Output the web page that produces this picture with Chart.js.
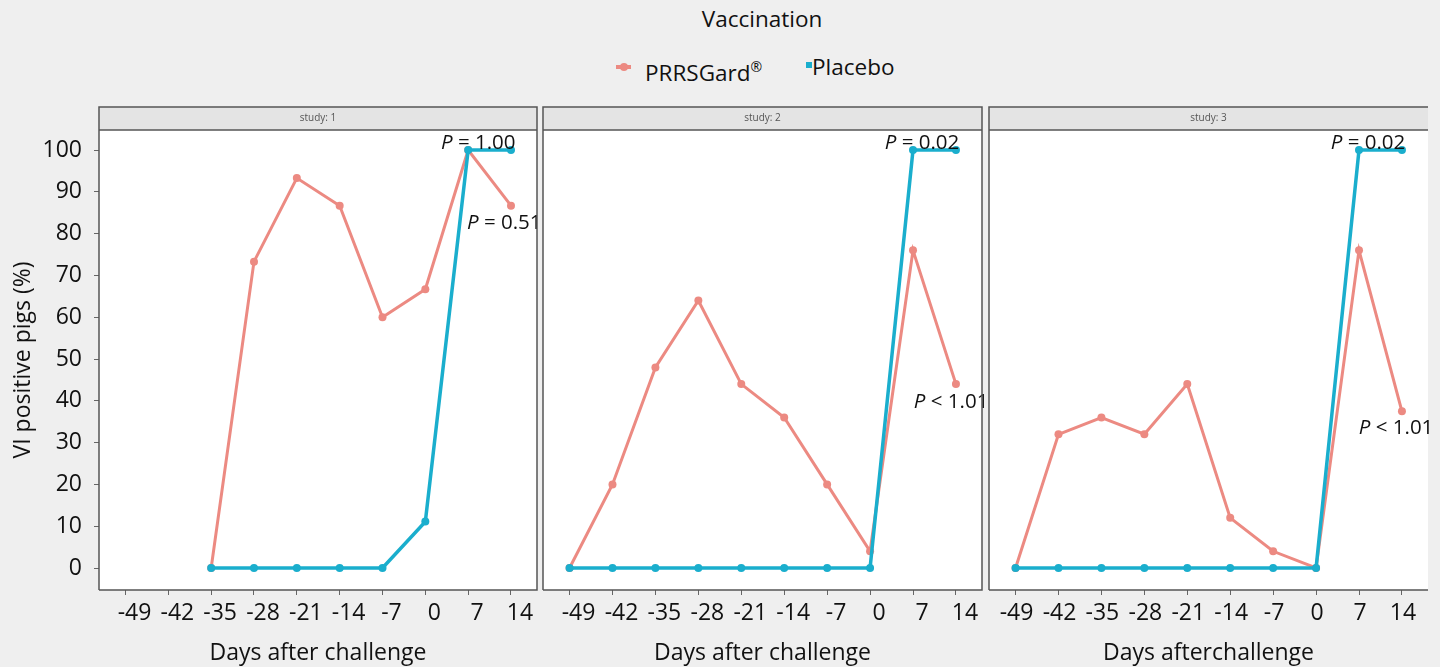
<!DOCTYPE html>
<html>
<head>
<meta charset="utf-8">
<script src="https://cdn.jsdelivr.net/npm/chart.js@4.4.0/dist/chart.umd.min.js"></script>
<style>
  html, body { margin:0; padding:0; background:#efefef; width:1440px; height:667px; overflow:hidden; font-family: "Open Sans", Lato, sans-serif; color:#111; }
  canvas { position:absolute; }
  .abs { position:absolute; white-space:nowrap; }
</style>
</head>
<body>
<div class="abs" id="legTitle" style="left:662px; top:5px; width:200px; text-align:center; font-size:22.5px; line-height:28px;">Vaccination</div>
<div class="abs" style="left:616px; top:65px; width:15px; height:4px; background:#ec8a82;"></div>
<div class="abs" style="left:620px; top:63px; width:8px; height:8px; border-radius:4px; background:#ec8a82;"></div>
<div class="abs" style="left:645px; top:53px; font-size:22.5px; line-height:28px;">PRRSGard<sup style="font-size:14px; vertical-align:9px;">®</sup></div>
<div class="abs" style="left:806px; top:62px; width:6px; height:6px; background:#1aaecd;"></div>
<div class="abs" style="left:812px; top:53px; font-size:22.5px; line-height:28px;">Placebo</div>

<canvas id="c1" width="545" height="577" style="left:0px; top:90px;"></canvas>
<canvas id="c2" width="451" height="577" style="left:537px; top:90px;"></canvas>
<canvas id="c3" width="457" height="577" style="left:983px; top:90px;"></canvas>

<script>
// ---- data ----
const xTickValues = [-49, -42, -35, -28, -21, -14, -7, 0, 7, 14];
const yTickValues = [0, 10, 20, 30, 40, 50, 60, 70, 80, 90, 100];
const seriesNames = ['PRRSGard®', 'Placebo'];
const studyTitles = ['study: 1', 'study: 2', 'study: 3'];

const study1Days = [-35, -28, -21, -14, -7, 0, 7, 14];
const study1Prrs = [0, 73.3, 93.3, 86.7, 60, 66.7, 100, 86.7];
const study1Placebo = [0, 0, 0, 0, 0, 11.1, 100, 100];

const study2Days = [-49, -42, -35, -28, -21, -14, -7, 0, 7, 14];
const study2Prrs = [0, 20, 48, 64, 44, 36, 20, 4, 76, 44];
const study2Placebo = [0, 0, 0, 0, 0, 0, 0, 0, 100, 100];

const study3Days = [-49, -42, -35, -28, -21, -14, -7, 0, 7, 14];
const study3Prrs = [0, 32, 36, 32, 44, 12, 4, 0, 76, 37.5];
const study3Placebo = [0, 0, 0, 0, 0, 0, 0, 0, 100, 100];

const study1PText = ['= 1.00', '= 0.51'];
const study2PText = ['= 0.02', '< 1.01'];
const study3PText = ['= 0.02', '< 1.01'];

// ---- styling / layout ----
const PRRS_COLOR = '#ec8a82';
const PLACEBO_COLOR = '#1aaecd';
const FONT = '"Open Sans", Lato, sans-serif';
const AX_FONT = 23;

const toPts = (xs, ys) => xs.map((x, i) => ({ x: x, y: ys[i] }));

const panelPlugin = {
  id: 'panel',
  beforeDraw(chart, args, opts) {
    const { ctx, chartArea: a } = chart;
    ctx.save();
    ctx.fillStyle = '#ffffff';
    ctx.fillRect(a.left, a.top, a.right - a.left, a.bottom - a.top);
    ctx.fillStyle = '#e4e4e4';
    ctx.fillRect(a.left, a.top - 23, a.right - a.left, 23);
    ctx.fillStyle = '#555';
    ctx.font = '10px ' + FONT;
    ctx.textAlign = 'center';
    ctx.textBaseline = 'middle';
    ctx.fillText(opts.title, (a.left + a.right) / 2, a.top - 11.5);
    ctx.restore();
  },
  afterDraw(chart, args, opts) {
    const { ctx, chartArea: a } = chart;
    ctx.save();
    ctx.strokeStyle = '#555';
    ctx.lineWidth = 1.5;
    ctx.beginPath();
    ctx.moveTo(a.left, a.bottom); ctx.lineTo(a.left, a.top - 23);
    ctx.lineTo(a.right, a.top - 23);
    if (opts.rightBorder) ctx.lineTo(a.right, a.bottom); else ctx.moveTo(a.right, a.bottom);
    ctx.lineTo(a.left, a.bottom);
    ctx.moveTo(a.left, a.top); ctx.lineTo(a.right, a.top);
    ctx.stroke();
    ctx.restore();
  }
};

const pvalPlugin = {
  id: 'pvals',
  afterDatasetsDraw(chart, args, opts) {
    const { ctx } = chart;
    const xs = chart.scales.x, ys = chart.scales.y;
    ctx.save();
    ctx.fillStyle = '#111';
    ctx.textBaseline = 'middle';
    ctx.textAlign = 'left';
    opts.items.forEach(it => {
      const px = xs.getPixelForValue(it.x);
      const py = ys.getPixelForValue(it.y);
      ctx.font = 'italic 20.5px ' + FONT;
      ctx.fillText('P', px, py);
      const w = ctx.measureText('P ').width;
      ctx.font = '20.5px ' + FONT;
      ctx.fillText(it.text, px + w, py);
    });
    ctx.restore();
  }
};

function makeChart(id, cfg) {
  const datasets = [
    { label: seriesNames[0], data: toPts(cfg.days, cfg.prrs), borderColor: PRRS_COLOR, backgroundColor: PRRS_COLOR,
      borderWidth: 3, pointRadius: 4, pointBorderWidth: 0, order: 1, tension: 0 },
    { label: seriesNames[1], data: toPts(cfg.days, cfg.placebo), borderColor: PLACEBO_COLOR, backgroundColor: PLACEBO_COLOR,
      borderWidth: 3.5, pointRadius: 4, pointBorderWidth: 0, order: 0, tension: 0 }
  ];
  return new Chart(document.getElementById(id), {
    type: 'line',
    data: { datasets },
    plugins: [panelPlugin, pvalPlugin],
    options: {
      responsive: false,
      animation: false,
      devicePixelRatio: 1,
      layout: { padding: { left: cfg.padLeft, right: cfg.padRight, top: 40, bottom: 0 } },
      plugins: {
        legend: { display: false },
        tooltip: { enabled: false },
        panel: { title: cfg.title, rightBorder: cfg.rightBorder },
        pvals: { items: cfg.pItems }
      },
      scales: {
        x: {
          type: 'linear', min: -53.33, max: 18.25,
          afterBuildTicks: s => { s.ticks = xTickValues.map(v => ({ value: v })); },
          afterFit: s => { s.height = 77; },
          grid: { display: true, drawOnChartArea: false, drawTicks: true, tickLength: 5, color: '#666', lineWidth: 1 },
          border: { display: false },
          ticks: { color: '#111', font: { family: FONT, size: AX_FONT }, padding: 5, labelOffset: cfg.labelOffset,
                   maxRotation: 0, autoSkip: false, callback: v => String(v) },
          title: { display: true, text: cfg.xTitle, color: '#111', font: { family: FONT, size: AX_FONT }, padding: { top: 0, bottom: 0 } }
        },
        y: {
          display: cfg.showY,
          min: -5.26, max: 104.8,
          afterBuildTicks: s => { s.ticks = yTickValues.map(v => ({ value: v })); },
          afterFit: s => { s.width = cfg.showY ? 99 : 0; },
          grid: { display: true, drawOnChartArea: false, drawTicks: true, tickLength: 5, color: '#666', lineWidth: 1 },
          border: { display: false },
          ticks: { color: '#111', font: { family: FONT, size: AX_FONT }, padding: 12, callback: v => String(v) },
          title: { display: true, text: 'VI positive pigs (%)', color: '#111', font: { family: FONT, size: AX_FONT }, padding: { top: 10, bottom: 0 } }
        }
      }
    }
  });
}

makeChart('c1', {
  days: study1Days, prrs: study1Prrs, placebo: study1Placebo, title: studyTitles[0],
  padLeft: 0, padRight: 8, showY: true, rightBorder: true, labelOffset: 9, xTitle: 'Days after challenge',
  pItems: [{ text: study1PText[0], x: 2.56, y: 101.7 }, { text: study1PText[1], x: 6.81, y: 82.5 }]
});
makeChart('c2', {
  days: study2Days, prrs: study2Prrs, placebo: study2Placebo, title: studyTitles[1],
  padLeft: 6, padRight: 6, showY: false, rightBorder: true, labelOffset: 9, xTitle: 'Days after challenge',
  pItems: [{ text: study2PText[0], x: 2.4, y: 101.7 }, { text: study2PText[1], x: 7.14, y: 39.7 }]
});
makeChart('c3', {
  days: study3Days, prrs: study3Prrs, placebo: study3Placebo, title: studyTitles[2],
  padLeft: 6, padRight: 12, showY: false, rightBorder: false, labelOffset: 1, xTitle: 'Days afterchallenge',
  pItems: [{ text: study3PText[0], x: 2.4, y: 101.7 }, { text: study3PText[1], x: 6.97, y: 33.5 }]
});
</script>
</body>
</html>
